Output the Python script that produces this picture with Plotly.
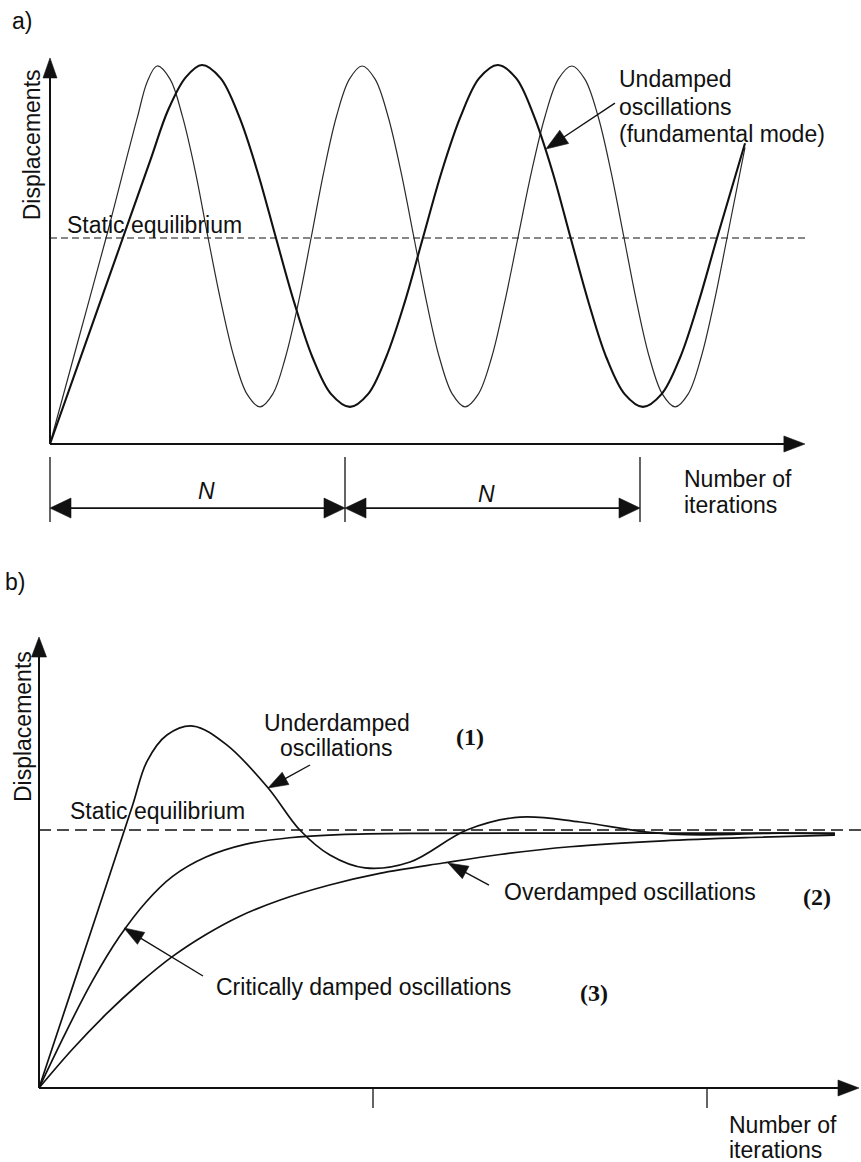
import plotly.graph_objects as go

# ---------------- panel (a): undamped oscillations ----------------
# x in units of N iterations, y relative to the static equilibrium (= 1)
a_mode_x = [0, 0.095, 0.190, 0.262, 0.297, 0.330, 0.363,
            0.407, 0.449, 0.493, 0.536, 0.580, 0.624, 0.668, 0.712,
            0.755, 0.798, 0.842, 0.885, 0.928, 0.971, 1.015, 1.058,
            1.102, 1.146, 1.190, 1.234, 1.277, 1.320, 1.364, 1.407,
            1.452, 1.497, 1.541, 1.586, 1.632, 1.678, 1.723, 1.769,
            1.813, 1.858, 1.902, 1.946, 1.989, 2.032, 2.076, 2.119,
            2.163, 2.207, 2.251, 2.295, 2.356]
a_mode_y = [0, 0.50, 1.00, 1.40, 1.59, 1.76, 1.835,
            1.771, 1.59, 1.320, 1.00, 0.686, 0.42, 0.242, 0.180,
            0.242, 0.42, 0.686, 1.00, 1.320, 1.59, 1.771, 1.835,
            1.771, 1.59, 1.320, 1.00, 0.686, 0.42, 0.242, 0.180,
            0.242, 0.42, 0.686, 1.00, 1.320, 1.59, 1.771, 1.835,
            1.771, 1.59, 1.320, 1.00, 0.686, 0.42, 0.242, 0.180,
            0.242, 0.42, 0.686, 1.00, 1.44]

a_fund_x = [0, 0.120, 0.240, 0.340, 0.400, 0.460, 0.515,
            0.578, 0.641, 0.703, 0.766, 0.828, 0.890, 0.953, 1.017,
            1.078, 1.139, 1.202, 1.264, 1.328, 1.392, 1.455, 1.518,
            1.580, 1.641, 1.703, 1.765, 1.826, 1.886, 1.948, 2.010,
            2.073, 2.136, 2.198, 2.261, 2.356]
a_fund_y = [0, 0.486, 0.972, 1.377, 1.62, 1.78, 1.840,
            1.776, 1.59, 1.323, 1.00, 0.686, 0.42, 0.242, 0.180,
            0.242, 0.42, 0.686, 1.00, 1.323, 1.59, 1.776, 1.840,
            1.776, 1.59, 1.323, 1.00, 0.686, 0.42, 0.242, 0.180,
            0.242, 0.42, 0.686, 1.00, 1.46]

a_equilibrium = 1.0
a_equilibrium_end = 2.566
a_period_marks = [0.0, 1.0, 2.0]
a_period_label = "N"

# ---------------- panel (b): damped responses ----------------
b_under_x = [0, 0.100, 0.200, 0.280, 0.323, 0.383, 0.461, 0.563, 0.686, 0.781,
             0.871, 0.976, 1.111, 1.281, 1.440, 1.620, 1.820, 1.979, 2.219, 2.383]
b_under_y = [0, 0.390, 0.780, 1.095, 1.265, 1.368, 1.403, 1.329, 1.163, 1.000,
             0.903, 0.853, 0.876, 1.000, 1.050, 1.031, 0.992, 0.981, 0.988, 0.984]

b_crit_x = [0, 0.080, 0.160, 0.240, 0.320, 0.400, 0.500, 0.620, 0.750, 0.900,
            1.150, 1.600, 2.000, 2.383]
b_crit_y = [0, 0.215, 0.415, 0.585, 0.720, 0.820, 0.895, 0.945, 0.970, 0.982,
            0.987, 0.988, 0.988, 0.988]

b_over_x = [0, 0.100, 0.200, 0.300, 0.400, 0.500, 0.600, 0.720, 0.870, 1.020,
            1.210, 1.380, 1.590, 1.870, 2.130, 2.383]
b_over_y = [0, 0.150, 0.285, 0.405, 0.510, 0.595, 0.665, 0.728, 0.787, 0.832,
            0.872, 0.905, 0.935, 0.958, 0.971, 0.980]

b_equilibrium = 1.0
b_equilibrium_end = 2.461
b_ticks = [1.0, 2.0]

# ---------------- page geometry ----------------
W, H = 861, 1162
SPLIT = 560  # pixel row separating the two panels

# origin position (px) and pixels per data unit for each panel
GA = dict(ox=50, oy=444, sx=295, sy=206, top=0, bottom=SPLIT, xa="x", ya="y")
GB = dict(ox=39, oy=1088, sx=334, sy=258, top=SPLIT, bottom=H, xa="x2", ya="y2")

INK = "#111111"
SANS = "Liberation Sans, Arial, Helvetica, sans-serif"
SERIF = "Liberation Serif, Times New Roman, serif"
FS = 23


def axis_setup(g):
    xr = [-g["ox"] / g["sx"], (W - g["ox"]) / g["sx"]]
    yr = [(g["oy"] - g["bottom"]) / g["sy"], (g["oy"] - g["top"]) / g["sy"]]
    dom = [1 - g["bottom"] / H, 1 - g["top"] / H]
    return xr, yr, dom


fig = go.Figure()


def curve(g, xs, ys, width, color=INK, dash=None, shape="spline", smoothing=1.0):
    fig.add_trace(go.Scatter(
        x=xs, y=ys, mode="lines", xaxis=g["xa"], yaxis=g["ya"],
        line=dict(color=color, width=width, dash=dash, shape=shape, smoothing=smoothing),
        hoverinfo="skip", showlegend=False))


def seg(g, x0, y0, x1, y1, width=1.3, color=INK):
    fig.add_shape(type="line", xref=g["xa"], yref=g["ya"], x0=x0, y0=y0, x1=x1, y1=y1,
                  line=dict(color=color, width=width), layer="above")


def arrow(g, tail, tip, width=1.4, head_len=20, head_half=7, both=False, color=INK):
    """Straight arrow in data coordinates with filled triangular head(s) sized in pixels."""
    sx, sy = g["sx"], g["sy"]
    (x0, y0), (x1, y1) = tail, tip
    dxp, dyp = (x1 - x0) * sx, (y1 - y0) * sy
    length = (dxp ** 2 + dyp ** 2) ** 0.5
    ux, uy = dxp / length, dyp / length

    def head(tx, ty, vx, vy):
        tpx, tpy = tx * sx, ty * sy
        bx, by = tpx - vx * head_len, tpy - vy * head_len
        nx, ny = -vy * head_half, vx * head_half
        pts = [(tpx, tpy), (bx + nx, by + ny), (bx - nx, by - ny)]
        path = "M " + " L ".join(f"{a / sx:.5f},{b / sy:.5f}" for a, b in pts) + " Z"
        fig.add_shape(type="path", path=path, xref=g["xa"], yref=g["ya"],
                      fillcolor=color, line=dict(color=color, width=0.6), layer="above")

    back = 0.8 * head_len
    sx0, sy0 = x0, y0
    if both:
        sx0, sy0 = x0 + ux * back / sx, y0 + uy * back / sy
        head(x0, y0, -ux, -uy)
    sx1, sy1 = x1 - ux * back / sx, y1 - uy * back / sy
    head(x1, y1, ux, uy)
    seg(g, sx0, sy0, sx1, sy1, width=width, color=color)


def text(g, s, x, y, xanchor="left", size=FS, family=SANS, angle=0):
    fig.add_annotation(text=s, x=x, y=y, xref=g["xa"], yref=g["ya"], showarrow=False,
                       xanchor=xanchor, yanchor="middle", textangle=angle,
                       font=dict(family=family, size=size, color=INK))


# ---------------- panel (a) ----------------
curve(GA, [0, a_equilibrium_end], [a_equilibrium, a_equilibrium], 1.2, dash="7px,4px", shape="linear")
curve(GA, a_mode_x, a_mode_y, 1.2, color="#2a2a2a")
curve(GA, a_fund_x, a_fund_y, 2.1)

arrow(GA, (0, 0), (0, 1.874), width=2.0, head_len=20, head_half=7)
arrow(GA, (0, 0), (2.559, 0), width=2.0, head_len=21, head_half=8)

for m in a_period_marks:
    seg(GA, m, -0.063, m, -0.379, width=1.3)
for m0, m1 in zip(a_period_marks[:-1], a_period_marks[1:]):
    arrow(GA, (m0, -0.311), (m1, -0.311), width=1.8, head_len=21, head_half=10, both=True)
text(GA, "<i>" + a_period_label + "</i>", 0.529, -0.228, xanchor="center")
text(GA, "<i>" + a_period_label + "</i>", 1.481, -0.245, xanchor="center")

text(GA, "a)", -0.1356, 2.053)
text(GA, "Displacements", -0.061, 1.45, xanchor="center", angle=-90)
text(GA, "Static equilibrium", 0.0508, 1.063)
text(GA, "Undamped", 1.922, 1.772)
text(GA, "oscillations", 1.922, 1.636)
text(GA, "(fundamental mode)", 1.922, 1.505)
arrow(GA, (1.915, 1.655), (1.681, 1.432), width=1.4, head_len=22, head_half=8)
text(GA, "Number of", 2.142, -0.170)
text(GA, "iterations", 2.142, -0.296)

# ---------------- panel (b) ----------------
curve(GB, [0, b_equilibrium_end], [b_equilibrium, b_equilibrium], 1.3, dash="12px,6px", shape="linear")
curve(GB, b_over_x, b_over_y, 1.7)
curve(GB, b_crit_x, b_crit_y, 1.7)
curve(GB, b_under_x, b_under_y, 1.7)

arrow(GB, (0, 0), (0, 1.748), width=2.0, head_len=20, head_half=7.5)
arrow(GB, (0, 0), (2.455, 0), width=2.0, head_len=21, head_half=8)
for t in b_ticks:
    seg(GB, t, 0, t, -0.0775, width=1.3)

text(GB, "b)", -0.1078, 1.961)
text(GB, "Displacements", -0.0479, 1.399, xanchor="center", angle=-90)
text(GB, "Static equilibrium", 0.0868, 1.0736)
text(GB, "Underdamped", 0.892, 1.4147, xanchor="center")
text(GB, "oscillations", 0.892, 1.3178, xanchor="center")
arrow(GB, (0.8114, 1.2519), (0.6856, 1.1628), width=1.4, head_len=20, head_half=7)
text(GB, "<b>(1)</b>", 1.2904, 1.3605, xanchor="center", size=24, family=SERIF)

text(GB, "Overdamped oscillations", 1.3862, 0.7597)
arrow(GB, (1.3473, 0.7868), (1.2246, 0.8721), width=1.4, head_len=20, head_half=7)
text(GB, "<b>(2)</b>", 2.3293, 0.7403, xanchor="center", size=24, family=SERIF)

text(GB, "Critically damped oscillations", 0.524, 0.3915)
arrow(GB, (0.491, 0.4341), (0.2545, 0.6202), width=1.4, head_len=20, head_half=7)
text(GB, "<b>(3)</b>", 1.6617, 0.3682, xanchor="center", size=24, family=SERIF)

text(GB, "Number of", 2.0599, -0.1434)
text(GB, "iterations", 2.0599, -0.2403)

# ---------------- axes and page ----------------
xa_r, ya_r, ya_dom = axis_setup(GA)
xb_r, yb_r, yb_dom = axis_setup(GB)
hidden = dict(visible=False, fixedrange=True)
fig.update_layout(
    width=W, height=H, margin=dict(l=0, r=0, t=0, b=0), autosize=False,
    paper_bgcolor="white", plot_bgcolor="white", showlegend=False, hovermode=False,
    xaxis=dict(domain=[0, 1], range=xa_r, anchor="y", **hidden),
    yaxis=dict(domain=ya_dom, range=ya_r, anchor="x", **hidden),
    xaxis2=dict(domain=[0, 1], range=xb_r, anchor="y2", **hidden),
    yaxis2=dict(domain=yb_dom, range=yb_r, anchor="x2", **hidden),
)

fig.write_html("out.html", config={"displayModeBar": False})
